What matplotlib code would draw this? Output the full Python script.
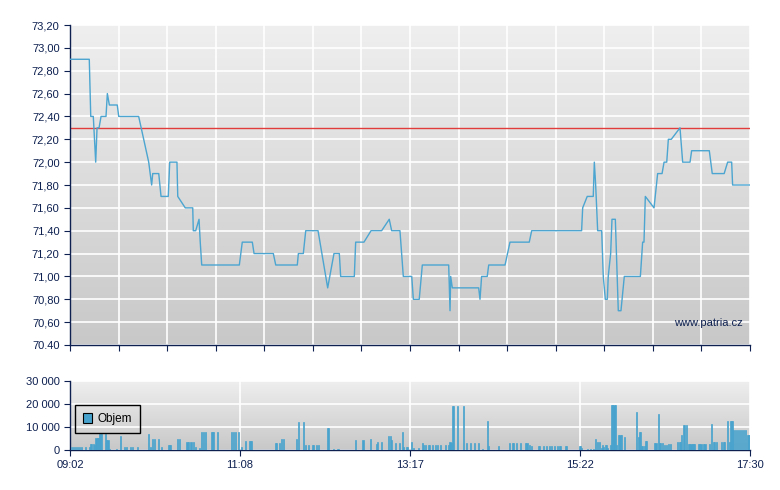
import matplotlib
matplotlib.use('Agg')
import matplotlib.pyplot as plt
import numpy as np
from matplotlib.colors import LinearSegmentedColormap

# trading day 09:02 - 17:30, time axis in minutes after 09:02
SESSION_MIN = 508
TIME_LABELS = ["09:02", "11:08", "13:17", "15:22", "17:30"]

# price trace (minute, price)
price_min = [0, 14.4, 15.5, 17.4, 19.2, 20.2, 21.7, 23.2, 26.9, 27.9, 29.4, 35.3,
             36.4, 51.3, 58.8, 61.0, 61.8, 66.3, 68.0, 73.4, 74.5, 79.9, 80.5,
             86.1, 91.7, 92.1, 93.9, 96.4, 97.3, 98.4, 126.5, 128.7, 136.2, 137.5,
             151.9, 153.7, 169.8, 170.6, 174.3, 176.1, 185.3, 192.5, 197.2, 201.2,
             202.2, 212.4, 213.4, 219.6, 224.9, 232.8, 238.5, 240.3, 246.5, 249.0,
             255.3, 256.5, 260.9, 263.2, 282.9, 283.9, 284.4, 285.6, 305.3, 306.3,
             307.5, 311.7, 312.8, 325.0, 328.7, 343.1, 344.9, 382.2, 383.0, 386.4,
             390.9, 391.7, 392.7, 394.2, 397.2, 398.4, 399.9, 401.4, 402.1, 403.9,
             404.9, 407.4, 409.6, 411.6, 414.1, 426.1, 427.8, 428.8, 429.8, 436.3,
             439.0, 442.3, 443.8, 445.8, 447.0, 449.2, 455.7, 457.7, 463.2, 464.4,
             477.6, 479.8, 488.7, 491.3, 494.3, 495.0, 508]
price_val = [72.90, 72.90, 72.40, 72.40, 72.00, 72.30, 72.30, 72.40, 72.40, 72.60,
             72.50, 72.50, 72.40, 72.40, 72.00, 71.80, 71.90, 71.90, 71.70, 71.70,
             72.00, 72.00, 71.70, 71.60, 71.60, 71.40, 71.40, 71.50, 71.30, 71.10,
             71.10, 71.30, 71.30, 71.20, 71.20, 71.10, 71.10, 71.20, 71.20, 71.40,
             71.40, 70.90, 71.20, 71.20, 71.00, 71.00, 71.30, 71.30, 71.40, 71.40,
             71.50, 71.40, 71.40, 71.00, 71.00, 70.80, 70.80, 71.10, 71.10, 70.70,
             71.00, 70.90, 70.90, 70.80, 71.00, 71.00, 71.10, 71.10, 71.30, 71.30,
             71.40, 71.40, 71.60, 71.70, 71.70, 72.00, 71.80, 71.40, 71.40, 71.00,
             70.80, 70.80, 71.00, 71.20, 71.50, 71.50, 70.70, 70.70, 71.00, 71.00,
             71.30, 71.30, 71.70, 71.60, 71.90, 71.90, 72.00, 72.00, 72.20, 72.20,
             72.30, 72.00, 72.00, 72.10, 72.10, 71.90, 71.90, 72.00, 72.00, 71.80,
             71.80]
prev_close = 72.30

price_ticks = [70.4, 70.6, 70.8, 71.0, 71.2, 71.4, 71.6, 71.8, 72.0, 72.2, 72.4,
               72.6, 72.8, 73.0, 73.2]
price_tick_labels = ["70.40", "70,60", "70,80", "71,00", "71,20", "71,40", "71,60",
                     "71,80", "72,00", "72,20", "72,40", "72,60", "72,80", "73,00",
                     "73,20"]

# volume bars (minute, shares)
vol_min = [1, 2, 3.5, 5, 6.5, 8, 11, 14, 15, 16, 17, 18, 19, 20, 21, 22, 23,
           26, 27, 28, 29, 34, 37, 40, 42, 45, 46, 50,
           58, 60, 61, 63, 65.5, 68, 73, 74, 75, 80, 81.5, 87, 88, 90, 92, 93.5, 96.5,
           98, 99.5, 101, 105, 106, 107, 110, 120.5, 122, 123, 125.5, 128, 131,
           133.5, 134.5, 135.5, 153, 154, 156, 157.5, 159, 169, 170, 174, 175.5,
           178, 180.5, 181.5, 184, 185.5, 192, 193, 196.5, 199.5, 200.5, 213,
           218.5, 224, 228.3, 229.3, 232, 237.5,
           239, 240, 243, 245.5, 248, 249, 251, 252, 255, 256.5, 260, 263, 264,
           265.5, 267.5, 268.5, 270.5, 272.5, 274, 276.5, 280, 282.5, 283.5, 284.5,
           285.5, 286, 289, 293.5, 296, 298.5, 301.5, 304.5, 307.5, 311.5, 312.3,
           320, 328, 330, 331, 333.5, 336, 340, 341, 343, 344.5, 349.5, 350.5, 353,
           355.5, 358, 359.5, 361.5, 363.5, 365.3, 366.3, 369.5, 370.5, 380, 381,
           382, 386.5, 388.5, 391, 392, 393.5, 395, 396.5, 397.5, 398.3, 399.5,
           400.5, 401.3, 403.3, 404, 405, 406, 407, 408, 409.5, 410.5, 411.5,
           413.5, 423, 424, 425, 425.5, 426.5, 427.5, 428.5, 429.5, 430, 436,
           437.4, 439, 440, 441, 442, 444, 445, 447, 448.5, 453.5, 455, 455.5,
           456.5, 458, 458.5, 460.5, 461.5, 462.5, 463.5, 464.5, 465.5, 466, 469,
           470, 471, 473, 474, 477.5, 478.5, 480, 481, 482.3, 486.5, 487.5, 488.3,
           491, 492, 493, 494, 494.3, 495.3, 496.5, 498.3, 499.5, 501.2, 502.7,
           504.2, 505.7, 506.7, 507]
vol_val = [1150, 1150, 1150, 1150, 1150, 1150, 1150, 1150, 2600, 2600, 2600, 2000,
           5200, 5200, 5200, 7070, 7070,
           7070, 4330, 4330, 290, 290, 6060, 1150, 1150, 1150, 1150, 1150,
           6930, 1150, 4760, 4760, 4760, 1150, 2170, 2170, 2170, 4760, 4760, 3460,
           3460, 3460, 3460, 1150, 720,
           7940, 7940, 7940, 7940, 7940, 7940, 7940, 7940, 7940, 7940, 7940, 1150,
           3900, 3900, 3900, 3900, 3030, 3030, 3030, 4760, 4760, 4760, 12270, 12270,
           2170, 2170, 2170, 2170, 2170, 2170, 9530, 9530, 290, 290, 290, 4330,
           4330, 4760, 2600, 3460, 3460, 6060,
           6060, 4330, 3030, 3030, 7940, 1150, 1150, 1150, 3460, 720, 720, 3030,
           2170, 2170, 2170, 2170, 2170, 2170, 2170, 2170, 2170, 2170, 3460, 3030,
           19050, 19050, 19050, 19050, 3030, 3030, 3030, 3030, 430, 12560, 1590,
           1590, 3030, 3030, 3030, 3030, 3030, 3030, 3030, 2170, 1590, 1590, 1590,
           1590, 1590, 1590, 1590, 1590, 1590, 1590, 1590, 1590, 1590, 1590, 1590,
           720, 430, 430, 430, 4750, 3600, 3300, 720, 2160, 1150, 2160, 2160, 1000,
           2160, 19440, 19440, 19440, 19440, 2160, 6480, 6480, 6480, 5600, 16560,
           5600, 7780, 7780, 1730, 1730, 1730, 3900, 3900, 3000, 3000, 15550, 3000,
           3000, 3000, 2160, 2160, 2600, 2600, 3460, 3460, 3460, 6480, 10800,
           10800, 10800, 2600, 2600, 2600, 2600, 2600, 2600, 2600, 2600, 2600, 2600,
           2600, 2600, 11230, 3460, 3460, 3460, 3460, 3460, 3460, 12530, 3460,
           12530, 12530, 12530, 8640, 8640, 8640, 8640, 8640, 8640, 8640, 6480,
           6480, 6480]

vol_ticks = [0, 10000, 20000, 30000]
vol_tick_labels = ["0", "10 000", "20 000", "30 000"]

NAVY = '#0d2050'
LINE = '#4ba5d0'
BAR = '#47a3cd'

plt.rcParams.update({
    'font.family': ['Liberation Sans', 'DejaVu Sans'],
    'font.size': 8,
})


def gradient_bg(ax, x0, x1, y0, y1, top='#efefef', bottom='#c8c8c8'):
    cmap = LinearSegmentedColormap.from_list('bg', [top, bottom])
    ax.imshow(np.linspace(0, 1, 256).reshape(-1, 1), cmap=cmap,
              extent=[x0, x1, y0, y1], aspect='auto', zorder=0)


def style_axes(ax):
    for side in ('top', 'right'):
        ax.spines[side].set_visible(False)
    for side in ('left', 'bottom'):
        ax.spines[side].set_color(NAVY)
        ax.spines[side].set_linewidth(1)
    ax.tick_params(direction='out', length=4, color=NAVY, labelcolor=NAVY,
                   labelsize=8)
    ax.set_axisbelow(True)


fig = plt.figure(figsize=(7.8, 4.9), dpi=100)

# price panel
ax = fig.add_axes([70 / 780, 1 - 345 / 490, 680 / 780, 320 / 490])
gradient_bg(ax, 0, SESSION_MIN, 70.4, 73.2)
ax.set_xlim(0, SESSION_MIN)
ax.set_ylim(70.4, 73.2)
style_axes(ax)
ax.set_yticks(price_ticks)
ax.set_yticklabels(price_tick_labels)
ax.set_xticks(np.linspace(0, SESSION_MIN, 15))
ax.set_xticklabels([])
ax.grid(True, color='white', linewidth=1.2)
ax.axhline(prev_close, color='#e23b3b', linewidth=1, zorder=2)
ax.plot(price_min, price_val, color=LINE, linewidth=1.0, zorder=3)
ax.text(0.99, 0.07, "www.patria.cz", transform=ax.transAxes, ha='right',
        va='center', color=NAVY, fontsize=8)

# volume panel
axv = fig.add_axes([70 / 780, 1 - 450 / 490, 680 / 780, 69.5 / 490])
gradient_bg(axv, 0, SESSION_MIN, 0, 30000)
axv.set_xlim(0, SESSION_MIN)
axv.set_ylim(0, 30000)
style_axes(axv)
axv.set_yticks(vol_ticks)
axv.set_yticklabels(vol_tick_labels)
axv.set_xticks(np.linspace(0, SESSION_MIN, 5))
axv.set_xticklabels(TIME_LABELS)
axv.grid(True, color='white', linewidth=1.2)
axv.bar(vol_min, vol_val, width=0.8, align='edge', color=BAR, edgecolor=BAR,
        linewidth=0.5, label='Objem', zorder=3)
leg = axv.legend(loc='upper left', bbox_to_anchor=(0.007, 0.65), borderaxespad=0,
                 fancybox=False, facecolor='none', edgecolor='black',
                 framealpha=1, handlelength=0.8, handleheight=0.8,
                 borderpad=0.7, handletextpad=0.4, fontsize=8.5)
leg.get_frame().set_linewidth(1)
for h in leg.legend_handles:
    h.set_edgecolor('black')
    h.set_linewidth(0.8)
for t in leg.get_texts():
    t.set_color('black')

fig.savefig('out.png', dpi=100)
